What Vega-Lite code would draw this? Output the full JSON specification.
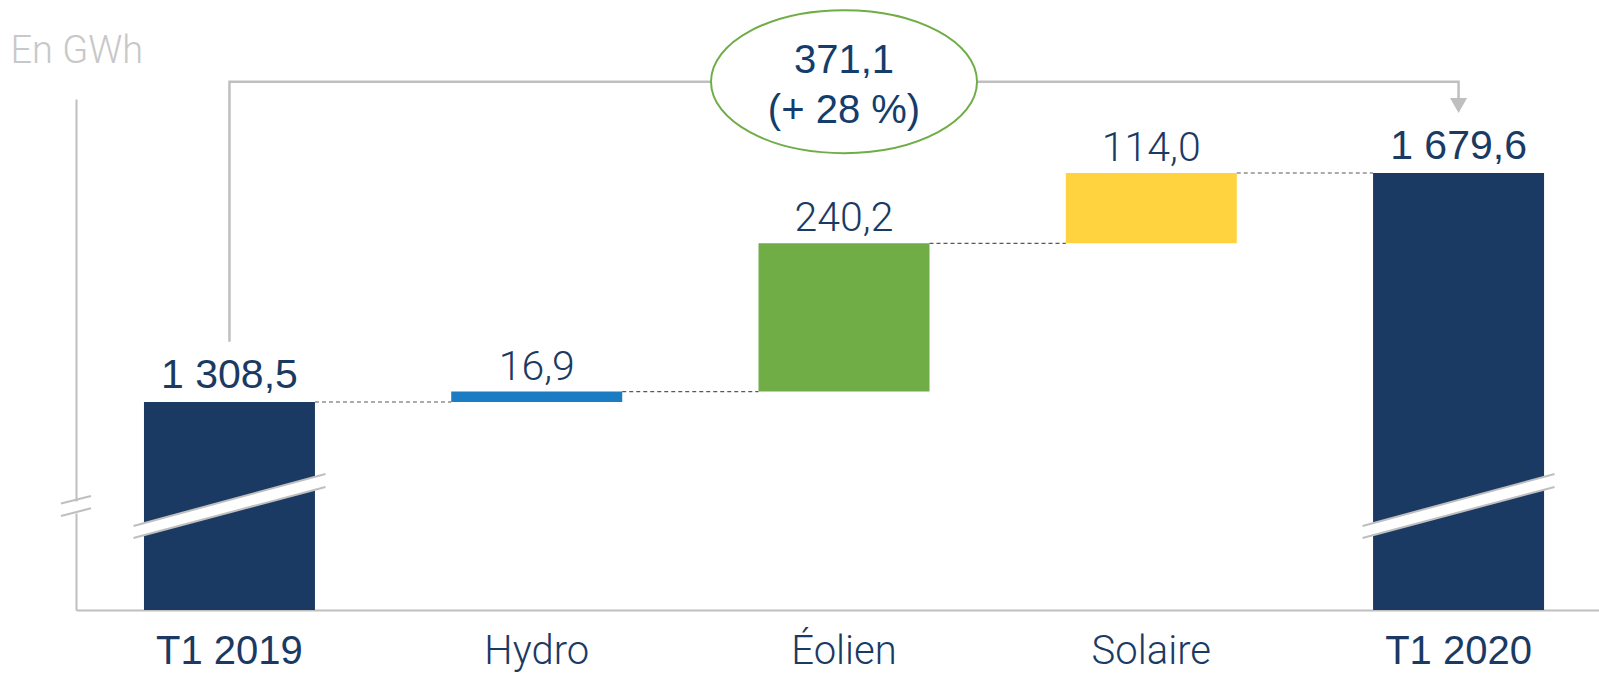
{
  "$schema": "https://vega.github.io/schema/vega-lite/v6.json",
  "width": 1523,
  "height": 511,
  "autosize": {"type": "none"},
  "padding": {"left": 76, "top": 99, "right": 0, "bottom": 64},
  "background": "white",
  "config": {"view": {"stroke": null}, "font": "Liberation Sans"},
  "datasets": {
    "bars": [
      {"cat": "T1 2019", "start": 0, "end": 1308.5, "type": "total", "label": "1 308,5"},
      {"cat": "Hydro", "start": 1308.5, "end": 1325.4, "type": "delta", "label": "16,9"},
      {"cat": "Éolien", "start": 1325.4, "end": 1565.6, "type": "delta", "label": "240,2"},
      {"cat": "Solaire", "start": 1565.6, "end": 1679.6, "type": "delta", "label": "114,0"},
      {"cat": "T1 2020", "start": 0, "end": 1679.6, "type": "total", "label": "1 679,6"}
    ],
    "links": [
      {"from": "T1 2019", "to": "Hydro", "level": 1308.5},
      {"from": "Hydro", "to": "Éolien", "level": 1325.4},
      {"from": "Éolien", "to": "Solaire", "level": 1565.6},
      {"from": "Solaire", "to": "T1 2020", "level": 1679.6}
    ],
    "bridge": [
      {"cat": "T1 2019", "v": 1406.2, "order": 1},
      {"cat": "T1 2019", "v": 1827.6, "order": 2},
      {"cat": "T1 2020", "v": 1827.6, "order": 3},
      {"cat": "T1 2020", "v": 1801, "order": 4}
    ],
    "arrow": [{"cat": "T1 2020", "v": 1789}],
    "bubble": [{"cat": "Éolien", "v": 1827.6, "label": ["371,1", "(+ 28 %)"]}],
    "breaks": [{"cat": "T1 2019", "v": 1140}, {"cat": "T1 2020", "v": 1140}],
    "axisbreak": [{"v": 1140}]
  },
  "layer": [
    {
      "data": {"name": "bars"},
      "mark": {"type": "bar", "clip": true},
      "encoding": {
        "x": {
          "field": "cat",
          "type": "nominal",
          "sort": null,
          "scale": {
            "domain": ["T1 2019", "Hydro", "Éolien", "Solaire", "T1 2020"],
            "paddingInner": 0.4435,
            "paddingOuter": 0.2,
            "align": 0.553,
            "round": false
          },
          "axis": {
            "title": null,
            "domainColor": "#BFBFBF",
            "domainWidth": 2,
            "ticks": false,
            "tickSize": 0,
            "labelPadding": 53,
            "labelBaseline": "alphabetic",
            "labelAngle": 0,
            "labelColor": "#1B3A63",
            "labelFontSize": 40,
            "labelLimit": 400,
            "labelOverlap": false,
            "labelFont": {"condition": {"test": "indexof(datum.value, 'T1') == 0", "value": "Liberation Sans"}, "value": "Roboto"},
            "labelFontWeight": {"condition": {"test": "indexof(datum.value, 'T1') == 0", "value": 400}, "value": 300}
          }
        },
        "y": {
          "field": "start",
          "type": "quantitative",
          "scale": {"domain": [971.4, 1799.5], "zero": false, "nice": false},
          "axis": {
            "title": "En GWh",
            "titleAngle": 0,
            "titleAlign": "left",
            "titleBaseline": "alphabetic",
            "titleX": -66,
            "titleY": -37,
            "titleColor": "#C8C8C8",
            "titleFontSize": 38,
            "titleFontWeight": 300,
            "titleFont": "Roboto",
            "labels": false,
            "ticks": false,
            "grid": false,
            "domainColor": "#BFBFBF",
            "domainWidth": 2,
            "domainDash": [97, 12, 700]
          }
        },
        "y2": {"field": "end"},
        "color": {
          "field": "cat",
          "type": "nominal",
          "scale": {
            "domain": ["T1 2019", "Hydro", "Éolien", "Solaire", "T1 2020"],
            "range": ["#1B3A63", "#1B7BC3", "#70AD47", "#FFD33F", "#1B3A63"]
          },
          "legend": null
        }
      }
    },
    {
      "data": {"name": "breaks"},
      "mark": {"type": "point", "shape": "M -1 0.208 L 1 -0.333 L 1 -0.198 L -1 0.333 Z", "size": 36864, "filled": true, "color": "white", "opacity": 1, "strokeWidth": 0},
      "encoding": {
        "x": {"field": "cat", "type": "nominal"},
        "y": {"field": "v", "type": "quantitative"}
      }
    },
    {
      "data": {"name": "breaks"},
      "mark": {"type": "point", "shape": "M -1 0.208 L 1 -0.333 M -1 0.333 L 1 -0.198", "size": 36864, "filled": false, "color": "#BFBFBF", "strokeWidth": 2, "opacity": 1},
      "encoding": {
        "x": {"field": "cat", "type": "nominal"},
        "y": {"field": "v", "type": "quantitative"}
      }
    },
    {
      "data": {"name": "axisbreak"},
      "mark": {"type": "point", "shape": "M -1 -0.16 L 1 -0.667 M -1 0.667 L 1 0.153", "size": 900, "filled": false, "color": "#BFBFBF", "strokeWidth": 2, "opacity": 1},
      "encoding": {
        "x": {"value": 0},
        "y": {"field": "v", "type": "quantitative"}
      }
    },
    {
      "data": {"name": "links"},
      "mark": {"type": "rule", "color": "#595959", "strokeWidth": 1.2, "strokeDash": [4, 3]},
      "encoding": {
        "x": {"field": "from", "type": "nominal", "bandPosition": 1},
        "x2": {"field": "to", "bandPosition": 0},
        "y": {"field": "level", "type": "quantitative"}
      }
    },
    {
      "data": {"name": "bridge"},
      "mark": {"type": "line", "color": "#BFBFBF", "strokeWidth": 2.5},
      "encoding": {
        "x": {"field": "cat", "type": "nominal"},
        "y": {"field": "v", "type": "quantitative"},
        "order": {"field": "order", "type": "quantitative"}
      }
    },
    {
      "data": {"name": "arrow"},
      "mark": {"type": "point", "shape": "M -1 -0.88 L 1 -0.88 L 0 0.88 Z", "size": 289, "filled": true, "color": "#BFBFBF", "opacity": 1},
      "encoding": {
        "x": {"field": "cat", "type": "nominal"},
        "y": {"field": "v", "type": "quantitative"}
      }
    },
    {
      "data": {"name": "bubble"},
      "mark": {
        "type": "point",
        "shape": "M 1 0 C 1 0.2969 0.5523 0.5376 0 0.5376 C -0.5523 0.5376 -1 0.2969 -1 0 C -1 -0.2969 -0.5523 -0.5376 0 -0.5376 C 0.5523 -0.5376 1 -0.2969 1 0 Z",
        "size": 70756,
        "filled": true,
        "fill": "white",
        "stroke": "#70AD47",
        "strokeWidth": 2,
        "opacity": 1
      },
      "encoding": {
        "x": {"field": "cat", "type": "nominal"},
        "y": {"field": "v", "type": "quantitative"}
      }
    },
    {
      "data": {"name": "bubble"},
      "mark": {"type": "text", "font": "Liberation Sans", "fontSize": 40, "color": "#143D6B", "baseline": "alphabetic", "align": "center", "dy": -9, "lineHeight": 50},
      "encoding": {
        "x": {"field": "cat", "type": "nominal"},
        "y": {"field": "v", "type": "quantitative"},
        "text": {"field": "label"}
      }
    },
    {
      "data": {"name": "bars"},
      "transform": [{"filter": "datum.type == 'total'"}],
      "mark": {"type": "text", "font": "Liberation Sans", "fontSize": 41, "color": "#1B3A63", "baseline": "alphabetic", "align": "center", "dy": -14},
      "encoding": {
        "x": {"field": "cat", "type": "nominal"},
        "y": {"field": "end", "type": "quantitative"},
        "text": {"field": "label"}
      }
    },
    {
      "data": {"name": "bars"},
      "transform": [{"filter": "datum.type == 'delta'"}],
      "mark": {"type": "text", "font": "Roboto", "fontWeight": 300, "fontSize": 41, "color": "#1B3A63", "baseline": "alphabetic", "align": "center", "dy": -12},
      "encoding": {
        "x": {"field": "cat", "type": "nominal"},
        "y": {"field": "end", "type": "quantitative"},
        "text": {"field": "label"}
      }
    }
  ]
}
